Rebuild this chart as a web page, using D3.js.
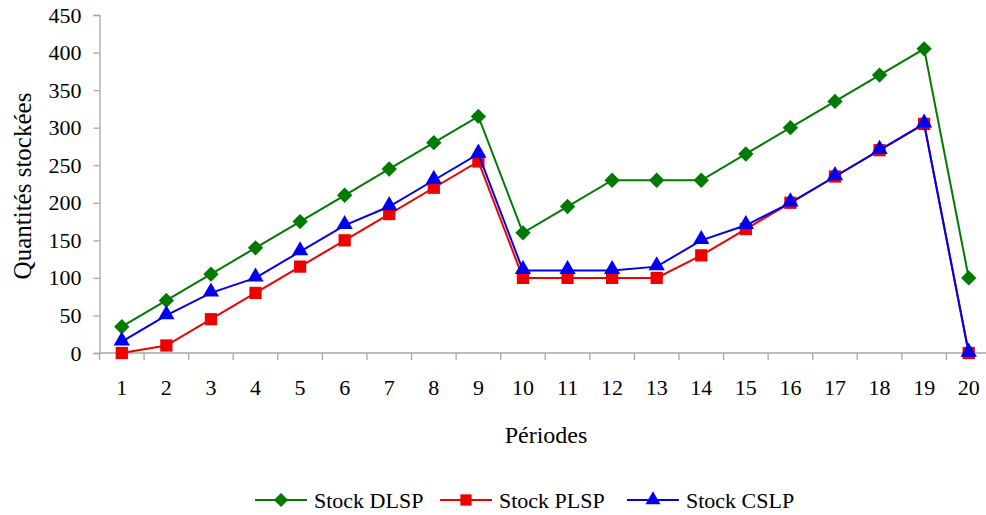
<!DOCTYPE html>
<html><head><meta charset="utf-8">
<script src="https://cdn.jsdelivr.net/npm/d3@7"></script>
<style>body{margin:0;background:#fff}svg{display:block}text{font-family:"Liberation Serif","Times New Roman",serif;fill:#000}</style>
</head><body>
<svg id="c" width="986" height="515"></svg>
<script>
const periods = d3.range(1, 21);
const stockDLSP = [35,70,105,140,175,210,245,280,315,160,195,230,230,230,265,300,335,370,405,100];
const stockPLSP = [0,10,45,80,115,150,185,220,255,100,100,100,100,130,165,200,235,270,305,0];
const stockCSLP = [15,50,80,100,135,170,195,230,265,110,110,110,115,150,170,200,235,270,305,0];
const yTicks = [0,50,100,150,200,250,300,350,400,450];
const seriesNames = ["Stock DLSP","Stock PLSP","Stock CSLP"];

const svg = d3.select("#c");
const L = 99.5, R = 991, T = 15, B = 353;
const x = d3.scaleBand().domain(periods).range([L, R]);
const y = d3.scaleLinear().domain([0, 450]).range([B, T]);
const axisCol = "#a6a6a6";

// Y axis
const ya = svg.append("g").attr("transform", `translate(${L},0)`)
  .call(d3.axisLeft(y).tickValues(yTicks).tickSize(6).tickPadding(12));
ya.select(".domain").attr("stroke", axisCol).attr("stroke-width", 1.3);
ya.selectAll(".tick line").attr("stroke", axisCol).attr("stroke-width", 1.3);
ya.selectAll(".tick text").style("font-family", '"Liberation Serif",serif').style("font-size", "22px").attr("fill", "#000");

// X axis line and boundary ticks
const xa = svg.append("g").attr("transform", `translate(0,${B})`)
  .call(d3.axisBottom(x).tickSize(0).tickPadding(26));
xa.select(".domain").attr("d", `M${L},0H${R}`).attr("stroke", axisCol).attr("stroke-width", 1.3);
xa.selectAll(".tick text").style("font-family", '"Liberation Serif",serif').style("font-size", "22px").attr("fill", "#000");
const bounds = periods.map(p => x(p)).concat([x(20) + x.bandwidth()]);
svg.append("g").selectAll("line").data(bounds).join("line")
  .attr("x1", d => d).attr("x2", d => d).attr("y1", B).attr("y2", B + 7)
  .attr("stroke", axisCol).attr("stroke-width", 1.3);

// Titles
svg.append("text").attr("x", 546).attr("y", 443).attr("text-anchor", "middle")
  .style("font-size", "24px").text("Périodes");
svg.append("text").attr("transform", "translate(31,186) rotate(-90)").attr("text-anchor", "middle")
  .style("font-size", "25px").text("Quantités stockées");

const cx = p => x(p) + x.bandwidth() / 2;
const series = [
  {name: seriesNames[0], vals: stockDLSP, color: "#007a00", sym: d3.symbolDiamond2, size: 150},
  {name: seriesNames[1], vals: stockPLSP, color: "#ee0000", sym: d3.symbolSquare, size: 150},
  {name: seriesNames[2], vals: stockCSLP, color: "#0000ee", sym: d3.symbolTriangle, size: 115}
];
const line = d3.line().x((d, i) => cx(periods[i])).y(d => y(d));

series.forEach(s => {
  const g = svg.append("g");
  g.append("path").attr("d", line(s.vals)).attr("fill", "none").attr("stroke", s.color).attr("stroke-width", 2);
  g.selectAll("path.m").data(s.vals).join("path").attr("class", "m")
    .attr("transform", (d, i) => `translate(${cx(periods[i])},${y(d) + (s.sym === d3.symbolTriangle ? -1 : 0)})`)
    .attr("d", d3.symbol().type(s.sym).size(s.size)).attr("fill", s.color);
});

// Legend
const legX = [255, 440, 627];
series.forEach((s, i) => {
  const g = svg.append("g").attr("transform", `translate(${legX[i]},500)`);
  g.append("line").attr("x1", 0).attr("x2", 52).attr("stroke", s.color).attr("stroke-width", 2);
  g.append("path").attr("transform", "translate(26,0)").attr("d", d3.symbol().type(s.sym).size(s.size * 0.85)).attr("fill", s.color);
  g.append("text").attr("x", 59).attr("y", 8).style("font-size", "22px").text(s.name);
});
</script>
</body></html>
